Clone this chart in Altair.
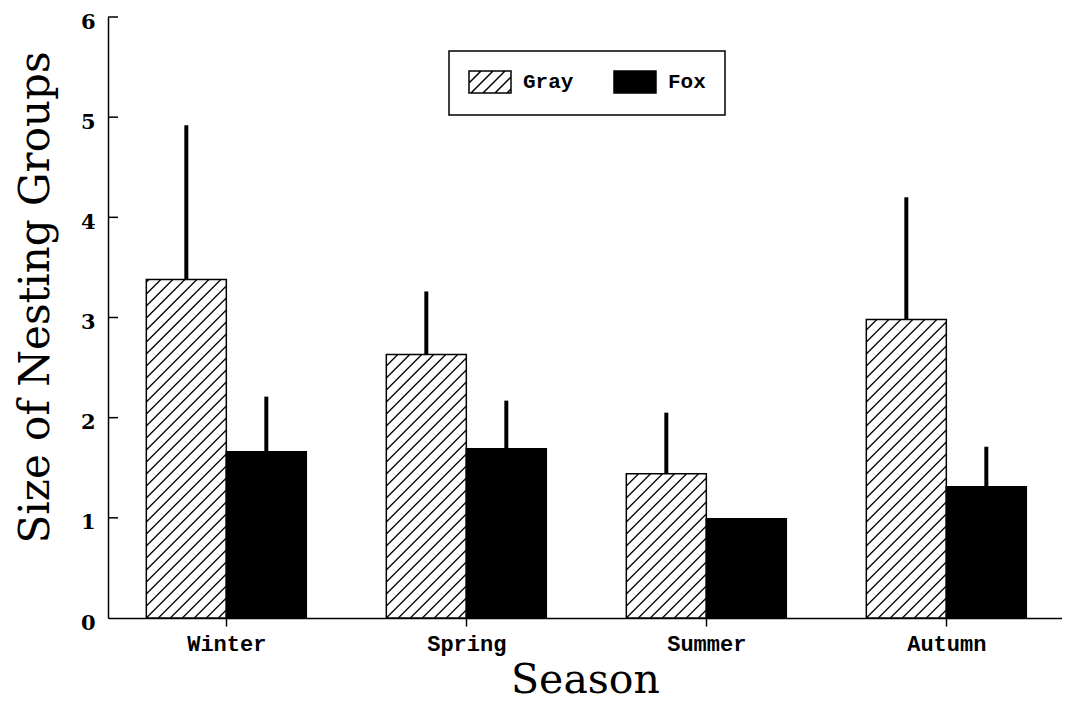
import altair as alt
import pandas as pd

# ---- data ----
seasons = ["Winter", "Spring", "Summer", "Autumn"]
species = ["Gray", "Fox"]
gray_mean = [3.38, 2.63, 1.44, 2.98]
gray_err = [1.54, 0.63, 0.61, 1.22]
fox_mean = [1.66, 1.69, 0.99, 1.31]
fox_err = [0.55, 0.48, 0.0, 0.40]
y_ticks = [0, 1, 2, 3, 4, 5, 6]

# ---- layout / style ----
PLOT_W, PLOT_H = 954, 601
PX_PER_SEASON = 240.0
X_DOMAIN = [0.007, 0.007 + PLOT_W / PX_PER_SEASON]
Y_DOMAIN = [0, 6]
BAR_W = 1 / 3
HATCH_SPACING = 12.0  # px
PX_X = PLOT_W / (X_DOMAIN[1] - X_DOMAIN[0])
PX_Y = PLOT_H / (Y_DOMAIN[1] - Y_DOMAIN[0])

rows = []
for i, s in enumerate(seasons):
    c = i + 0.5
    for sp, means, errs, x0, x1 in [
        ("Gray", gray_mean, gray_err, c - BAR_W, c),
        ("Fox", fox_mean, fox_err, c, c + BAR_W),
    ]:
        rows.append(dict(season=s, species=sp, x0=x0, x1=x1, mid=(x0 + x1) / 2,
                         mean=means[i], err=errs[i], top=means[i] + errs[i]))
bars = pd.DataFrame(rows)


def hatch(x0, x1, h):
    W = (x1 - x0) * PX_X
    H = h * PX_Y
    segs = []
    k = int(-H // HATCH_SPACING) - 1
    while k * HATCH_SPACING < W:
        c = k * HATCH_SPACING
        xs = max(0.0, c)
        xe = min(W, H + c)
        if xe > xs + 0.5:
            segs.append(dict(hx=x0 + xs / PX_X, hy=(xs - c) / PX_Y,
                             hx2=x0 + xe / PX_X, hy2=(xe - c) / PX_Y))
        k += 1
    return segs


hrows = []
for r in rows:
    if r["species"] == "Gray":
        hrows.extend(hatch(r["x0"], r["x1"], r["mean"]))
hatch_df = pd.DataFrame(hrows)

# legend symbol: hatched rectangle as custom path (scale = sqrt(size)/2 = 11 px)
SYM_SCALE = 11.0
sx1 = -1 + 42 / SYM_SCALE
parts = [f"M-1,-1H{sx1:.3f}V1H-1Z"]
step = HATCH_SPACING / SYM_SCALE
a = -3.0
while a < sx1:
    xs = max(a, -1.0)
    xe = min(a + 2.0, sx1)
    if xe > xs + 0.05:
        parts.append(f"M{xs:.3f},{1 - (xs - a):.3f}L{xe:.3f},{1 - (xe - a):.3f}")
    a += step
sym_path = "".join(parts)

xscale = alt.Scale(domain=X_DOMAIN, nice=False, zero=False)
yscale = alt.Scale(domain=Y_DOMAIN, nice=False)

label_expr = "[" + ",".join(f"'{s}'" for s in seasons) + "][round(datum.value - 0.5)]"

xaxis = alt.Axis(
    values=[i + 0.5 for i in range(len(seasons))], labelExpr=label_expr,
    grid=False, tickSize=8, tickWidth=1.5, tickColor="black",
    domainColor="black", domainWidth=1.5,
    labelFont="Liberation Mono", labelFontWeight="bold", labelFontSize=22,
    labelColor="black", labelPadding=7, labelFlush=False, labelOverlap=False,
    titleFont="DejaVu Serif", titleFontSize=41, titleFontWeight="normal",
    titleColor="black", titleBaseline="alphabetic", titleY=74,
)
yaxis = alt.Axis(
    values=y_ticks, ticks=False, grid=False,
    domainColor="black", domainWidth=1.5,
    labelFont="DejaVu Serif", labelFontWeight="bold", labelFontSize=21,
    labelColor="black", labelPadding=13, labelFlush=False, labelOffset=5,
    titleFont="DejaVu Serif", titleFontSize=42, titleFontWeight="normal",
    titleColor="black", titleBaseline="alphabetic", titleX=-60, titleY=280,
)

X_TITLE = "Season"
Y_TITLE = "Size of Nesting Groups"

bar_layer = alt.Chart(bars).mark_rect(stroke="black", strokeWidth=1.5).encode(
    x=alt.X("x0:Q", scale=xscale, axis=xaxis, title=X_TITLE),
    x2="x1:Q",
    y=alt.Y("mean:Q", scale=yscale, axis=yaxis, title=Y_TITLE),
    y2=alt.datum(0),
    fill=alt.Fill(
        "species:N",
        scale=alt.Scale(domain=species, range=["white", "black"]),
        legend=alt.Legend(
            title=None, orient="none", legendX=341, legendY=34,
            direction="horizontal", symbolType=sym_path, symbolSize=484,
            symbolStrokeColor="black", symbolStrokeWidth=1.5,
            labelFont="Liberation Mono", labelFontWeight="bold",
            labelFontSize=21, labelColor="black", labelOffset=31,
            columnPadding=37, padding=19, strokeColor="black",
        ),
    ),
)

hatch_layer = alt.Chart(hatch_df).mark_rule(color="black", strokeWidth=1.3).encode(
    x=alt.X("hx:Q", scale=xscale, axis=xaxis, title=X_TITLE),
    x2="hx2:Q",
    y=alt.Y("hy:Q", scale=yscale, axis=yaxis, title=Y_TITLE),
    y2="hy2:Q",
)

err_layer = alt.Chart(bars[bars["err"] > 0]).mark_rule(color="black", strokeWidth=4).encode(
    x=alt.X("mid:Q", scale=xscale, axis=xaxis, title=X_TITLE),
    y=alt.Y("mean:Q", scale=yscale, axis=yaxis, title=Y_TITLE),
    y2="top:Q",
)

tick_layer = alt.Chart(pd.DataFrame({"v": y_ticks[1:]})).mark_rule(
    color="black", strokeWidth=1.5
).encode(
    y=alt.Y("v:Q", scale=yscale, axis=yaxis, title=Y_TITLE),
    x=alt.value(0),
    x2=alt.value(10),
)

chart = alt.layer(bar_layer, hatch_layer, err_layer, tick_layer).properties(
    width=PLOT_W, height=PLOT_H,
    autosize=alt.AutoSizeParams(type="none"),
    padding={"left": 100, "top": 9, "right": 0, "bottom": 84},
    background="white",
).configure_view(stroke=None).configure_legend(strokeWidth=1.5)

chart.save("out.html", embed_options={"renderer": "svg", "actions": False})
